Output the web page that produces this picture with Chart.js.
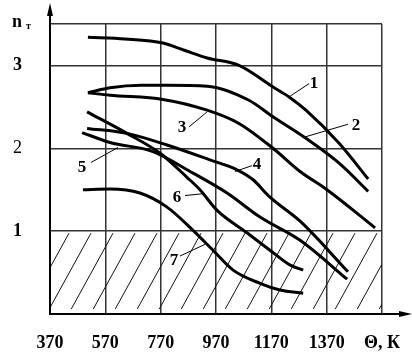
<!DOCTYPE html>
<html>
<head>
<meta charset="utf-8">
<script src="https://cdn.jsdelivr.net/npm/chart.js@4.4.1/dist/chart.umd.min.js"></script>
<style>
  html, body { margin: 0; padding: 0; background: #fff; }
  #wrap { width: 412px; height: 355px; }
</style>
</head>
<body>
<div id="wrap"><canvas id="grafico"></canvas></div>
<script>
// Ticks
const tempTicks = [370, 570, 770, 970, 1170, 1370, 1570];
const ntTicks = [0, 1, 2, 3, 3.5];

// Curves: temperature (K) -> n_T
const temp1 = [507, 641, 778, 858, 938, 1053, 1176, 1234, 1295, 1415, 1520];
const nt1   = [3.34, 3.32, 3.27, 3.18, 3.09, 3.00, 2.74, 2.62, 2.46, 2.06, 1.63];

const temp2 = [507, 587, 700, 793, 938, 1089, 1176, 1295, 1415, 1520];
const nt2   = [2.67, 2.73, 2.76, 2.76, 2.75, 2.58, 2.38, 2.12, 1.82, 1.48];

const temp3 = [507, 587, 778, 938, 1053, 1176, 1274, 1371, 1545];
const nt3   = [2.67, 2.64, 2.59, 2.46, 2.30, 2.00, 1.72, 1.50, 1.04];

const temp4 = [504, 648, 793, 948, 1046, 1104, 1165, 1274, 1447];
const nt4   = [2.24, 2.18, 2.04, 1.86, 1.74, 1.62, 1.41, 1.12, 0.51];

const temp5 = [486, 587, 742, 887, 1010, 1129, 1274, 1444];
const nt5   = [2.19, 2.07, 1.96, 1.70, 1.46, 1.17, 0.89, 0.42];

const temp6 = [504, 648, 768, 865, 912, 974, 1082, 1165, 1238, 1285];
const nt6   = [2.44, 2.18, 1.94, 1.65, 1.50, 1.25, 0.98, 0.77, 0.59, 0.53];

const temp7 = [489, 587, 695, 793, 887, 959, 1032, 1129, 1201, 1285];
const nt7   = [1.50, 1.51, 1.46, 1.29, 1.01, 0.77, 0.53, 0.37, 0.29, 0.25];

const curveNames = ['1', '2', '3', '4', '5', '6', '7'];

// Curve number labels (data units) and their leader lines
const notas = [
  { t: '1', x: 1324, y: 2.79, de: [1234, 2.62], ate: [1306, 2.78] },
  { t: '2', x: 1476, y: 2.28, de: [1295, 2.14], ate: [1447, 2.29] },
  { t: '3', x: 847,  y: 2.26, de: [873, 2.26],  ate: [938, 2.44] },
  { t: '4', x: 1118, y: 1.81, de: [1039, 1.72], ate: [1100, 1.79] },
  { t: '5', x: 486,  y: 1.78, de: [519, 1.83],  ate: [616, 2.01] },
  { t: '6', x: 829,  y: 1.42, de: [858, 1.43],  ate: [919, 1.45] },
  { t: '7', x: 818,  y: 0.66, de: [840, 0.70],  ate: [930, 0.84] }
];

const curvas = [
  [temp1, nt1], [temp2, nt2], [temp3, nt3], [temp4, nt4],
  [temp5, nt5], [temp6, nt6], [temp7, nt7]
];

const serif = '"Liberation Serif", "DejaVu Serif", serif';

// Hatching, axes with arrows, labels
const desenho = {
  id: 'desenho',
  beforeDatasetsDraw(chart) {
    const { ctx, chartArea: a, scales: { x, y } } = chart;
    const top = y.getPixelForValue(1), bottom = y.getPixelForValue(0);
    const h = bottom - top;
    const slant = 0.55 * h;
    ctx.save();
    ctx.beginPath();
    ctx.rect(a.left, top, a.right - a.left, h);
    ctx.clip();
    ctx.strokeStyle = '#111';
    ctx.lineWidth = 1;
    ctx.beginPath();
    for (let xs = a.left + 19 - 22 * 4; xs < a.right + slant; xs += 22) {
      ctx.moveTo(xs, top + 2);
      ctx.lineTo(xs - 0.55 * (h - 7), bottom - 5);
    }
    ctx.stroke();
    ctx.restore();
  },
  afterDraw(chart) {
    const { ctx, chartArea: a, scales: { x, y } } = chart;
    ctx.save();
    // axes
    ctx.strokeStyle = '#000';
    ctx.fillStyle = '#000';
    ctx.lineWidth = 2;
    ctx.beginPath();
    ctx.moveTo(a.left, a.bottom + 1);
    ctx.lineTo(a.left, 8);
    ctx.moveTo(a.left, a.bottom);
    ctx.lineTo(chart.width - 4, a.bottom);
    ctx.stroke();
    // arrow heads
    ctx.beginPath();
    ctx.moveTo(a.left, 3);
    ctx.lineTo(a.left - 3, 16);
    ctx.lineTo(a.left + 3, 16);
    ctx.closePath();
    ctx.fill();
    ctx.beginPath();
    ctx.moveTo(chart.width, a.bottom);
    ctx.lineTo(chart.width - 13, a.bottom - 3);
    ctx.lineTo(chart.width - 13, a.bottom + 3);
    ctx.closePath();
    ctx.fill();

    // n_T label
    const yTop = y.getPixelForValue(3.5);
    ctx.textAlign = 'left';
    ctx.textBaseline = 'alphabetic';
    ctx.font = 'bold 18px ' + serif;
    ctx.fillText('n', 12, yTop + 3);
    ctx.font = 'bold 10px ' + serif;
    ctx.fillText('т', 26, yTop + 5);

    // curve numbers
    ctx.lineWidth = 1;
    ctx.beginPath();
    notas.forEach(n => {
      ctx.moveTo(x.getPixelForValue(n.de[0]), y.getPixelForValue(n.de[1]));
      ctx.lineTo(x.getPixelForValue(n.ate[0]), y.getPixelForValue(n.ate[1]));
    });
    ctx.stroke();
    ctx.font = 'bold 17px ' + serif;
    ctx.textAlign = 'center';
    ctx.textBaseline = 'middle';
    notas.forEach(n => {
      ctx.fillText(n.t, x.getPixelForValue(n.x), y.getPixelForValue(n.y) + 1);
    });
    ctx.restore();
  }
};

const ctxGrafico = document.getElementById('grafico').getContext('2d');
const grafico = new Chart(ctxGrafico, {
  type: 'line',
  data: {
    datasets: curvas.map(([t, n], i) => ({
      label: curveNames[i],
      data: t.map((v, k) => ({ x: v, y: n[k] })),
      borderColor: '#000',
      borderWidth: 3,
      pointRadius: 0,
      fill: false,
      cubicInterpolationMode: 'monotone'
    }))
  },
  options: {
    responsive: true,
    maintainAspectRatio: false,
    animation: false,
    layout: { padding: { top: 24, right: 30, left: 0, bottom: 0 } },
    plugins: {
      legend: { display: false },
      tooltip: { enabled: false }
    },
    scales: {
      x: {
        type: 'linear',
        min: 370,
        max: 1570,
        afterBuildTicks: s => { s.ticks = tempTicks.map(v => ({ value: v })); },
        afterFit: s => { s.height = 41; s.paddingLeft = 0; s.paddingRight = 0; },
        grid: { color: '#333', lineWidth: 1.5, drawTicks: false },
        border: { display: false },
        ticks: {
          padding: 19,
          maxRotation: 0,
          autoSkip: false,
          color: '#000',
          font: { family: serif, size: 18, weight: 'bold' },
          callback: v => v === 1570 ? 'Θ, К' : String(v)
        }
      },
      y: {
        min: 0,
        max: 3.5,
        afterBuildTicks: s => { s.ticks = ntTicks.map(v => ({ value: v })); },
        afterFit: s => { s.width = 50; s.paddingTop = 0; s.paddingBottom = 0; },
        grid: { color: '#333', lineWidth: 1.5, drawTicks: false },
        border: { display: false },
        ticks: {
          padding: 28,
          color: '#000',
          font: c => ({ family: serif, size: 18, weight: c.tick && c.tick.value === 2 ? 'normal' : 'bold' }),
          callback: v => (v === 0 || v === 3.5) ? '' : String(v)
        }
      }
    }
  },
  plugins: [desenho]
});
</script>
</body>
</html>
